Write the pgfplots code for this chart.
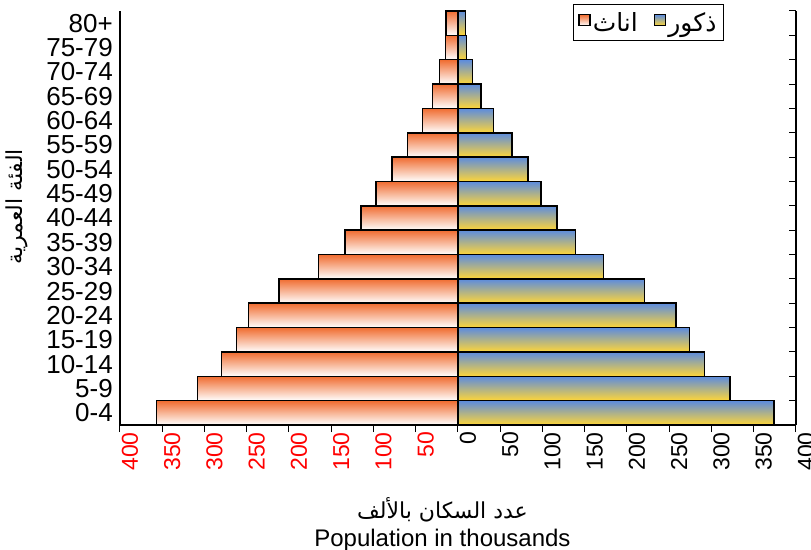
\documentclass[border=0pt]{standalone}
\usepackage{pgfplots}
\pgfplotsset{compat=1.18}
\usepackage{pgfplotstable}
\usepackage{fontspec}
\setmainfont{Liberation Sans}
\newfontfamily\arabicfont[Script=Arabic]{DejaVu Sans}
\TeXXeTstate=1

\definecolor{femtop}{RGB}{240,108,48}
\definecolor{femmid}{RGB}{252,204,188}
\definecolor{maletop}{RGB}{92,140,222}
\definecolor{malemid}{RGB}{200,188,155}
\definecolor{malebot}{RGB}{255,214,56}

\pgfplotsset{
  femstyle/.style={xbar, bar width=1, bar shift=0pt, draw=black, line width=1.5pt,
    top color=femtop, middle color=femmid, bottom color=white},
  malestyle/.style={xbar, bar width=1, bar shift=0pt, draw=black, line width=1.5pt,
    top color=maletop, middle color=malemid, bottom color=malebot},
}

% age group index, females, males (thousands)
\pgfplotstableread{
age f m
0 357 374
1 308 322
2 280 292
3 262 274
4 248 258
5 212 221
6 165 172
7 134 139
8 115 117
9 97 98
10 78 83
11 60 64
12 42 42
13 30 27
14 22 17
15 15 10
16 14 9
}\pyramid

\begin{document}
\begin{tikzpicture}[x=1pt,y=1pt]
\begin{axis}[
    at={(0,0)}, anchor=south west,
    scale only axis, width=676pt, height=414pt,
    xmin=-400, xmax=400, ymin=-0.5, ymax=16.5,
    unbounded coords=discard,
    axis x line*=bottom, axis y line*=left,
    axis line style={black, line width=1.6pt},
    tick align=outside, major tick length=7pt,
    xtick style={black, line width=1pt},
    ytick style={draw=none},
    xtick={-400,-350,...,400},
    xticklabels={\textcolor{red}{400},\textcolor{red}{350},\textcolor{red}{300},\textcolor{red}{250},\textcolor{red}{200},\textcolor{red}{150},\textcolor{red}{100},\textcolor{red}{50},0,50,100,150,200,250,300,350,400},
    xticklabel style={rotate=90, anchor=east, inner sep=0pt, yshift=-10pt, font=\fontsize{23}{27}\selectfont},
    ytick={0,...,16},
    yticklabels={0-4,5-9,10-14,15-19,20-24,25-29,30-34,35-39,40-44,45-49,50-54,55-59,60-64,65-69,70-74,75-79,80+},
    yticklabel style={anchor=east, inner sep=0pt, font=\fontsize{26}{30}\selectfont},
    /pgf/number format/assume math mode=true,
    xlabel={{\arabicfont\fontsize{22}{26}\selectfont\beginR عدد السكان بالألف\endR}\\[0pt]Population in thousands},
    xlabel style={at={(axis description cs:0.477,-0.166)}, anchor=north, align=center, font=\fontsize{24}{28}\selectfont},
    ylabel={\arabicfont\fontsize{22}{26}\selectfont\beginR الفئة العمرية\endR},
    ylabel style={at={(axis description cs:-0.153,0.527)}, anchor=center},
    legend columns=2,
    legend style={at={(axis description cs:0.670,1.017)}, anchor=north west,
        draw=black, line width=0.8pt, inner xsep=5pt, inner ysep=6pt,
        font=\arabicfont\fontsize{25}{29}\selectfont,
        /tikz/every even column/.append style={column sep=14pt}},
    legend image code/.code={\draw[#1,/tikz/.cd,line width=1.5pt] (0pt,-3pt) rectangle (11pt,8pt);},
]
\addlegendimage{femstyle}
\addlegendentry{\beginR اناث\endR}
\addlegendimage{malestyle}
\addlegendentry{\beginR ذكور\endR}
\pgfplotsinvokeforeach{0,...,16}{
  \addplot[femstyle, forget plot]
    table[x expr={\thisrow{age}==#1 ? -\thisrow{f} : nan}, y=age] {\pyramid};
  \addplot[malestyle, forget plot]
    table[x expr={\thisrow{age}==#1 ? \thisrow{m} : nan}, y=age] {\pyramid};
}
\end{axis}
\begin{axis}[
    at={(0,0)}, anchor=south west,
    scale only axis, width=676pt, height=414pt,
    xmin=-400, xmax=400, ymin=-0.5, ymax=16.5,
    axis x line=none, axis y line*=right,
    axis line style={black, line width=1.6pt},
    ytick={-0.5,0.5,...,16.5}, yticklabels={},
    tick align=inside, major tick length=7pt,
    ytick style={black, line width=1pt},
]
\end{axis}
\pgfresetboundingbox
\path[use as bounding box] (-120pt,-124pt) rectangle (691pt,425pt);
\end{tikzpicture}
\end{document}
